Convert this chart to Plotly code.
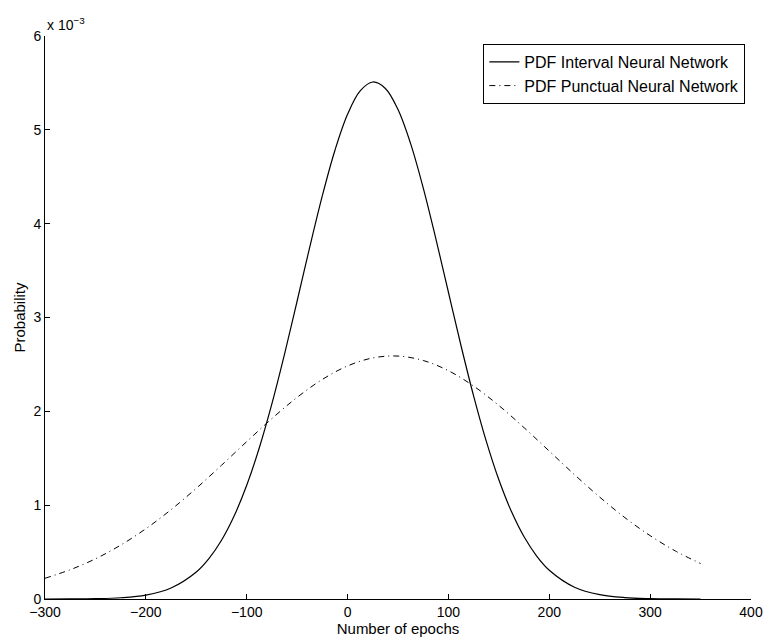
import plotly.graph_objects as go

# Values (PDF in units of 1e-3)
interval_epochs = [-300, -275, -250, -225, -200, -175, -150, -137.5, -125, -112.5, -100,
                   -87.5, -75, -62.5, -50, -37.5, -25, -12.5, 0, 12.5, 25, 37.5, 50,
                   62.5, 75, 87.5, 100, 112.5, 125, 137.5, 150, 162.5, 175, 187.5, 200,
                   225, 250, 275, 300, 325, 350]
pdf_interval_e3 = [0.0002, 0.001, 0.0039, 0.0135, 0.042, 0.117, 0.287, 0.430, 0.626, 0.884,
                   1.212, 1.612, 2.082, 2.610, 3.176, 3.751, 4.299, 4.783, 5.166, 5.415,
                   5.51, 5.441, 5.216, 4.853, 4.382, 3.841, 3.269, 2.699, 2.163, 1.683,
                   1.271, 0.932, 0.663, 0.458, 0.307, 0.126, 0.046, 0.0149, 0.0043,
                   0.0011, 0.0002]

punctual_epochs = [-300, -275, -250, -225, -200, -175, -150, -125, -100, -75, -50, -25, 0,
                   25, 50, 75, 100, 125, 150, 175, 200, 225, 250, 275, 300, 325, 350]
pdf_punctual_e3 = [0.221, 0.312, 0.428, 0.574, 0.749, 0.952, 1.180, 1.425, 1.677,
                   1.923, 2.149, 2.340, 2.484, 2.569, 2.589, 2.542, 2.433, 2.269, 2.062,
                   1.826, 1.576, 1.325, 1.086, 0.867, 0.675, 0.512, 0.378]

x_ticks = [-300, -200, -100, 0, 100, 200, 300, 400]
y_ticks = [0, 1, 2, 3, 4, 5, 6]

FONT = "Liberation Sans, Arial, Helvetica, sans-serif"

fig = go.Figure()
fig.add_trace(go.Scatter(
    x=interval_epochs, y=pdf_interval_e3, mode="lines", line_shape="spline",
    name="PDF Interval Neural Network",
    line=dict(color="black", width=1.2),
))
fig.add_trace(go.Scatter(
    x=punctual_epochs, y=pdf_punctual_e3, mode="lines", line_shape="spline",
    name="PDF Punctual Neural Network",
    line=dict(color="black", width=1, dash="6px,4px,1px,4px"),
))

fig.update_layout(
    width=775, height=644,
    margin=dict(l=45, r=16, t=36, b=45),
    paper_bgcolor="white", plot_bgcolor="white",
    font=dict(family=FONT, size=14, color="black"),
    showlegend=True,
    legend=dict(
        x=0.992, y=0.986, xanchor="right", yanchor="top",
        bgcolor="white", bordercolor="black", borderwidth=1,
        font=dict(family=FONT, size=16), itemwidth=30,
        tracegroupgap=0,
    ),
    xaxis=dict(
        range=[-300, 400], tickvals=x_ticks, ticks="inside", ticklen=5,
        tickcolor="black", showline=True, linecolor="black", linewidth=1,
        showgrid=False, zeroline=False, mirror=False,
        tickfont=dict(size=14),
        title=dict(text="Number of epochs", standoff=0, font=dict(size=15)),
    ),
    yaxis=dict(
        range=[0, 6], tickvals=y_ticks, ticks="inside", ticklen=5,
        tickcolor="black", showline=True, linecolor="black", linewidth=1,
        showgrid=False, zeroline=False, mirror=False,
        tickfont=dict(size=14),
        title=dict(text="Probability", standoff=4, font=dict(size=15)),
    ),
)

fig.add_annotation(
    text="x 10<sup>−3</sup>", xref="paper", yref="paper", x=0, y=1,
    xanchor="left", yanchor="bottom", showarrow=False, yshift=1,
    font=dict(family=FONT, size=14, color="black"),
)

fig.write_html("out.html")
